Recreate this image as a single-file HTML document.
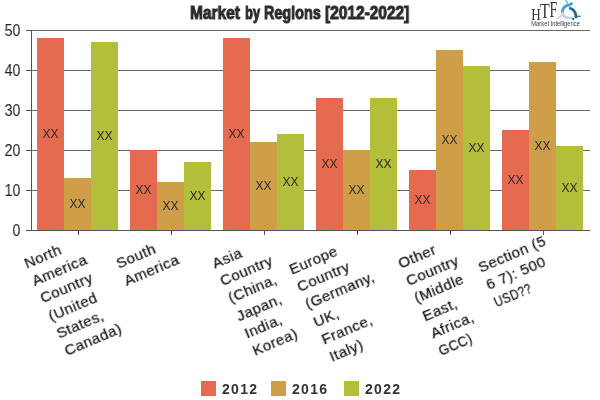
<!DOCTYPE html>
<html><head><meta charset="utf-8"><style>
html,body{margin:0;padding:0;background:#fff;}
body{width:600px;height:400px;position:relative;overflow:hidden;font-family:"Liberation Sans",sans-serif;}
.gl{position:absolute;left:31px;width:559px;height:1px;background:#666;}
.ax{position:absolute;background:#555;}
.bar{position:absolute;width:27px;}
.xx{position:absolute;width:27px;text-align:center;font-size:12px;line-height:15px;color:#2a2a2a;will-change:transform;}
.yl{position:absolute;left:0;width:20.5px;text-align:right;font-size:16px;line-height:19px;color:#222;transform-origin:100% 50%;transform:scaleX(0.9);will-change:transform;}
.xl{position:absolute;white-space:nowrap;text-align:left;font-size:15px;line-height:19.2px;color:#111;-webkit-text-stroke:0.2px #111;letter-spacing:0.45px;transform-origin:0 0;transform:rotate(-23deg);will-change:transform;}
.title{position:absolute;top:2px;will-change:transform;font-weight:bold;font-size:18px;line-height:22px;color:#2b2b2b;white-space:nowrap;transform-origin:0 0;-webkit-text-stroke:1px #2b2b2b;}
.lsq{position:absolute;top:381px;width:15px;height:15px;}
.ltx{position:absolute;top:379px;font-size:14px;line-height:20px;font-weight:bold;color:#333;letter-spacing:1.3px;will-change:transform;}
</style></head><body>
<div class="gl" style="top:30px"></div>
<div class="gl" style="top:70px"></div>
<div class="gl" style="top:110px"></div>
<div class="gl" style="top:150px"></div>
<div class="gl" style="top:190px"></div>
<div class="bar" style="left:37px;top:38px;height:192px;background:#E66A50"></div>
<div class="xx" style="left:37px;top:127.0px">XX</div>
<div class="bar" style="left:64px;top:178px;height:52px;background:#CF9E49"></div>
<div class="xx" style="left:64px;top:197.0px">XX</div>
<div class="bar" style="left:91px;top:42px;height:188px;background:#B3BE3A"></div>
<div class="xx" style="left:91px;top:129.0px">XX</div>
<div class="bar" style="left:130px;top:150px;height:80px;background:#E66A50"></div>
<div class="xx" style="left:130px;top:183.0px">XX</div>
<div class="bar" style="left:157px;top:182px;height:48px;background:#CF9E49"></div>
<div class="xx" style="left:157px;top:199.0px">XX</div>
<div class="bar" style="left:184px;top:162px;height:68px;background:#B3BE3A"></div>
<div class="xx" style="left:184px;top:189.0px">XX</div>
<div class="bar" style="left:223px;top:38px;height:192px;background:#E66A50"></div>
<div class="xx" style="left:223px;top:127.0px">XX</div>
<div class="bar" style="left:250px;top:142px;height:88px;background:#CF9E49"></div>
<div class="xx" style="left:250px;top:179.0px">XX</div>
<div class="bar" style="left:277px;top:134px;height:96px;background:#B3BE3A"></div>
<div class="xx" style="left:277px;top:175.0px">XX</div>
<div class="bar" style="left:316px;top:98px;height:132px;background:#E66A50"></div>
<div class="xx" style="left:316px;top:157.0px">XX</div>
<div class="bar" style="left:343px;top:150px;height:80px;background:#CF9E49"></div>
<div class="xx" style="left:343px;top:183.0px">XX</div>
<div class="bar" style="left:370px;top:98px;height:132px;background:#B3BE3A"></div>
<div class="xx" style="left:370px;top:157.0px">XX</div>
<div class="bar" style="left:409px;top:170px;height:60px;background:#E66A50"></div>
<div class="xx" style="left:409px;top:193.0px">XX</div>
<div class="bar" style="left:436px;top:50px;height:180px;background:#CF9E49"></div>
<div class="xx" style="left:436px;top:133.0px">XX</div>
<div class="bar" style="left:463px;top:66px;height:164px;background:#B3BE3A"></div>
<div class="xx" style="left:463px;top:141.0px">XX</div>
<div class="bar" style="left:502px;top:130px;height:100px;background:#E66A50"></div>
<div class="xx" style="left:502px;top:173.0px">XX</div>
<div class="bar" style="left:529px;top:62px;height:168px;background:#CF9E49"></div>
<div class="xx" style="left:529px;top:139.0px">XX</div>
<div class="bar" style="left:556px;top:146px;height:84px;background:#B3BE3A"></div>
<div class="xx" style="left:556px;top:181.0px">XX</div>
<div class="ax" style="left:31px;top:30px;width:1px;height:201px"></div>
<div class="ax" style="left:26px;top:230px;width:564px;height:1px"></div>
<div class="ax" style="left:26px;top:30px;width:5px;height:1px"></div>
<div class="ax" style="left:26px;top:70px;width:5px;height:1px"></div>
<div class="ax" style="left:26px;top:110px;width:5px;height:1px"></div>
<div class="ax" style="left:26px;top:150px;width:5px;height:1px"></div>
<div class="ax" style="left:26px;top:190px;width:5px;height:1px"></div>
<div class="ax" style="left:78px;top:230px;width:1px;height:5px"></div>
<div class="ax" style="left:171px;top:230px;width:1px;height:5px"></div>
<div class="ax" style="left:264px;top:230px;width:1px;height:5px"></div>
<div class="ax" style="left:357px;top:230px;width:1px;height:5px"></div>
<div class="ax" style="left:450px;top:230px;width:1px;height:5px"></div>
<div class="ax" style="left:543px;top:230px;width:1px;height:5px"></div>
<div class="yl" style="top:20.5px">50</div>
<div class="yl" style="top:60.5px">40</div>
<div class="yl" style="top:100.5px">30</div>
<div class="yl" style="top:140.5px">20</div>
<div class="yl" style="top:180.5px">10</div>
<div class="yl" style="top:220.5px">0</div>
<div class="xl" style="left:20.50px;top:254.50px"><div style="margin-left:0.00px">North</div><div style="margin-left:0.60px">America</div><div style="margin-left:1.20px">Country</div><div style="margin-left:1.80px">(United</div><div style="margin-left:2.40px">States,</div><div style="margin-left:3.00px">Canada)</div></div>
<div class="xl" style="left:112.90px;top:254.50px"><div style="margin-left:0.00px">South</div><div style="margin-left:0.60px">America</div></div>
<div class="xl" style="left:209.26px;top:254.97px"><div style="margin-left:0.00px">Asia</div><div style="margin-left:0.60px">Country</div><div style="margin-left:1.20px">(China,</div><div style="margin-left:1.80px">Japan,</div><div style="margin-left:2.40px">India,</div><div style="margin-left:3.00px">Korea)</div></div>
<div class="xl" style="left:286.15px;top:261.37px"><div style="margin-left:0.00px">Europe</div><div style="margin-left:0.60px">Country</div><div style="margin-left:1.20px">(Germany,</div><div style="margin-left:1.80px">UK,</div><div style="margin-left:2.40px">France,</div><div style="margin-left:3.00px">Italy)</div></div>
<div class="xl" style="left:395.26px;top:254.97px"><div style="margin-left:0.00px">Other</div><div style="margin-left:0.60px">Country</div><div style="margin-left:1.20px">(Middle</div><div style="margin-left:1.80px">East,</div><div style="margin-left:2.40px">Africa,</div><div style="margin-left:3.00px;transform:scaleX(0.88);transform-origin:0 50%">GCC)</div></div>
<div class="xl" style="left:475.10px;top:259.00px"><div style="margin-left:0.00px">Section (5</div><div style="margin-left:0.60px">6 7): 500</div><div style="margin-left:1.20px;transform:scaleX(0.78);transform-origin:0 50%">USD??</div></div>
<div class="title" style="left:189.5px;transform:scaleX(0.86)">Market</div>
<div class="title" style="left:244.5px;transform:scaleX(0.72)">by</div>
<div class="title" style="left:263.5px;transform:scaleX(0.8)">Regions</div>
<div class="title" style="left:324.5px;transform:scaleX(0.86)">[2012-2022]</div>
<svg class="logo" width="62" height="30" viewBox="526 0 62 30" style="position:absolute;left:526px;top:0;overflow:visible;will-change:transform">
<g fill="#383838" font-family="Liberation Serif">
<text transform="translate(531.3,19.5) scale(0.84,1)" font-size="15.7">H</text>
<text transform="translate(540,18.2) scale(0.78,1)" font-size="20.4">T</text>
<text transform="translate(549.6,16.8) scale(0.62,1)" font-size="22.7">F</text>
</g>
<g fill="none" stroke-linecap="round">
<path d="M562.3,12.5 C562,8.2 565.2,5.3 569.6,5.1" stroke="#47a3da" stroke-width="3"/>
<path d="M565.6,0.4 L567.6,3" stroke="#5ab8e4" stroke-width="1.4"/>
<path d="M570.2,8.3 C574,9.2 575.8,13 576.2,17" stroke="#28679a" stroke-width="2.8"/>
<path d="M574.8,16.8 L580.3,16.2" stroke="#2f72a8" stroke-width="1.3"/>
<path d="M571.8,17.8 C568,18.4 564,17.2 562.3,13.2" stroke="#c3d1dd" stroke-width="2.6"/>
<path d="M561.2,15.6 L557.4,18.6" stroke="#c8d4de" stroke-width="1.5"/>
</g>
<circle cx="571.3" cy="3.8" r="1.5" fill="#3596d2"/>
<circle cx="573.3" cy="19.2" r="1.1" fill="#1d4f80"/>
<text x="531.3" y="26.3" font-family="Liberation Sans" font-size="6.4" font-weight="normal" fill="#404040" textLength="48.6" lengthAdjust="spacingAndGlyphs">Market Intelligence</text>
</svg>
<div class="lsq" style="left:201px;background:#E66A50"></div>
<div class="ltx" style="left:222px">2012</div>
<div class="lsq" style="left:271px;background:#CF9E49"></div>
<div class="ltx" style="left:292px">2016</div>
<div class="lsq" style="left:344px;background:#B3BE3A"></div>
<div class="ltx" style="left:365px">2022</div>
</body></html>
